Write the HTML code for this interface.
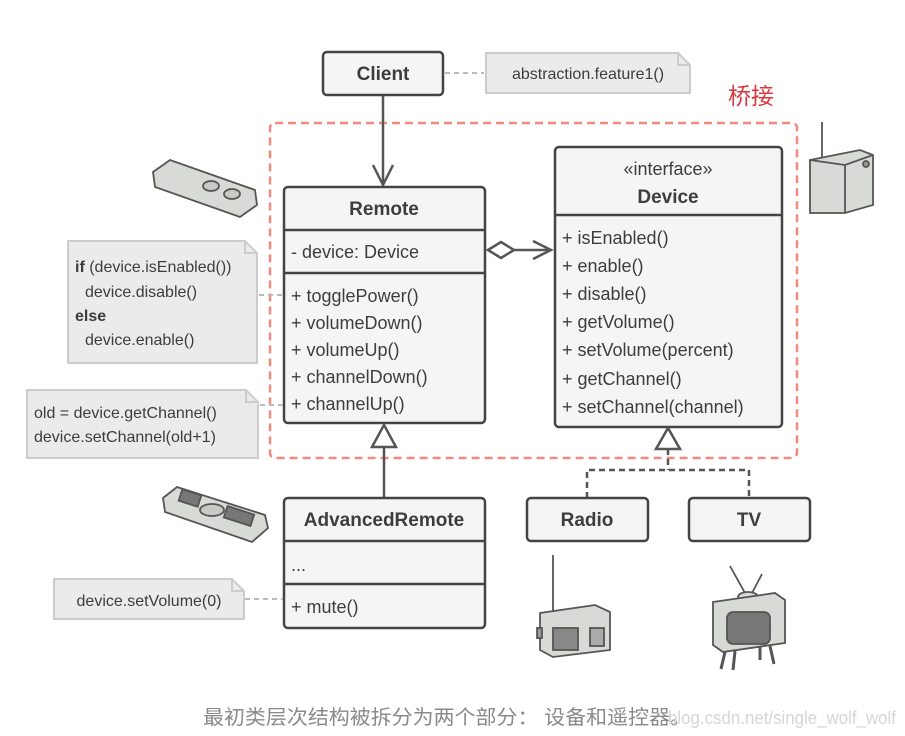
<!DOCTYPE html>
<html><head><meta charset="utf-8"><style>
html,body{margin:0;padding:0;background:#fff;}
svg{display:block;}
text{font-family:"Liberation Sans","Noto Sans CJK SC",sans-serif;fill:#3d3d3d;}
.b{font-weight:bold;}
</style></head><body>
<svg width="905" height="736" viewBox="0 0 905 736" xmlns="http://www.w3.org/2000/svg">
<rect x="270" y="123" width="527" height="335" rx="5" fill="none" stroke="#f28b7d" stroke-width="2.5" stroke-dasharray="8,5"/>
<text x="728" y="104" font-size="23" style="fill:#d9363e">桥接</text>

<rect x="323" y="52" width="120" height="43" rx="4" fill="#f5f5f5" stroke="#444" stroke-width="2.5"/>
<text x="383" y="80" font-size="19" text-anchor="middle" class="b">Client</text>
<line x1="445" y1="73" x2="484" y2="73" stroke="#bbb" stroke-width="2" stroke-dasharray="5,4"/>
<path d="M486 53 H678 L690 65 V93 H486 Z" fill="#ebebeb" stroke="#ccc" stroke-width="2"/>
<path d="M678 53 V65 H690" fill="none" stroke="#ccc" stroke-width="2"/>
<text x="588" y="79" font-size="16" text-anchor="middle">abstraction.feature1()</text>
<line x1="383" y1="96" x2="383" y2="185" stroke="#555" stroke-width="2.5"/>
<path d="M373 165 L383 185 L393 165" fill="none" stroke="#555" stroke-width="2.5"/>

<rect x="284" y="187" width="201" height="236" rx="4" fill="#f5f5f5" stroke="#444" stroke-width="2.5"/>
<line x1="284" y1="230" x2="485" y2="230" stroke="#444" stroke-width="2.5"/>
<line x1="284" y1="273" x2="485" y2="273" stroke="#444" stroke-width="2.5"/>
<text x="384" y="215" font-size="19" text-anchor="middle" class="b">Remote</text>
<g font-size="18">
<text x="291" y="258">- device: Device</text>
<text x="291" y="302">+ togglePower()</text>
<text x="291" y="329">+ volumeDown()</text>
<text x="291" y="356">+ volumeUp()</text>
<text x="291" y="383">+ channelDown()</text>
<text x="291" y="410">+ channelUp()</text>
</g>

<path d="M488 250 L501 242 L514 250 L501 258 Z" fill="#fff" stroke="#555" stroke-width="2.5"/>
<line x1="514" y1="250" x2="551" y2="250" stroke="#555" stroke-width="2.5"/>
<path d="M533 241 L551 250 L533 259" fill="none" stroke="#555" stroke-width="2.5"/>

<rect x="555" y="147" width="227" height="280" rx="4" fill="#f5f5f5" stroke="#444" stroke-width="2.5"/>
<line x1="555" y1="215" x2="782" y2="215" stroke="#444" stroke-width="2.5"/>
<text x="668" y="175" font-size="18" text-anchor="middle">«interface»</text>
<text x="668" y="203" font-size="19" text-anchor="middle" class="b">Device</text>
<g font-size="18">
<text x="562" y="244">+ isEnabled()</text>
<text x="562" y="272">+ enable()</text>
<text x="562" y="300">+ disable()</text>
<text x="562" y="328">+ getVolume()</text>
<text x="562" y="356">+ setVolume(percent)</text>
<text x="562" y="385">+ getChannel()</text>
<text x="562" y="413">+ setChannel(channel)</text>
</g>

<path d="M384 425 L396 447 L372 447 Z" fill="#fff" stroke="#555" stroke-width="2.5"/>
<line x1="384" y1="447" x2="384" y2="498" stroke="#555" stroke-width="2.5"/>

<rect x="284" y="498" width="201" height="130" rx="4" fill="#f5f5f5" stroke="#444" stroke-width="2.5"/>
<line x1="284" y1="541" x2="485" y2="541" stroke="#444" stroke-width="2.5"/>
<line x1="284" y1="584" x2="485" y2="584" stroke="#444" stroke-width="2.5"/>
<text x="384" y="526" font-size="19" text-anchor="middle" class="b">AdvancedRemote</text>
<text x="291" y="571" font-size="18">...</text>
<text x="291" y="613" font-size="18">+ mute()</text>

<path d="M668 428 L680 449 L656 449 Z" fill="#fff" stroke="#555" stroke-width="2.5"/>
<path d="M668 449 V470 M587 498 V470 H749 V498" fill="none" stroke="#555" stroke-width="2.5" stroke-dasharray="6,4"/>
<rect x="527" y="498" width="121" height="43" rx="4" fill="#f5f5f5" stroke="#444" stroke-width="2.5"/>
<text x="587" y="526" font-size="19" text-anchor="middle" class="b">Radio</text>
<rect x="689" y="498" width="121" height="43" rx="4" fill="#f5f5f5" stroke="#444" stroke-width="2.5"/>
<text x="749" y="526" font-size="19" text-anchor="middle" class="b">TV</text>

<g stroke="#bbb" stroke-width="2" stroke-dasharray="5,4">
<line x1="259" y1="295" x2="283" y2="295"/>
<line x1="260" y1="405" x2="283" y2="405"/>
<line x1="245" y1="599" x2="283" y2="599"/>
</g>
<path d="M68 241 H245 L257 253 V363 H68 Z" fill="#ebebeb" stroke="#ccc" stroke-width="2"/>
<path d="M245 241 V253 H257" fill="none" stroke="#ccc" stroke-width="2"/>
<g font-size="16">
<text x="75" y="272"><tspan class="b">if</tspan> (device.isEnabled())</text>
<text x="85" y="297">device.disable()</text>
<text x="75" y="321" class="b">else</text>
<text x="85" y="345">device.enable()</text>
</g>
<path d="M27 390 H246 L258 402 V458 H27 Z" fill="#ebebeb" stroke="#ccc" stroke-width="2"/>
<path d="M246 390 V402 H258" fill="none" stroke="#ccc" stroke-width="2"/>
<text x="34" y="418" font-size="16">old = device.getChannel()</text>
<text x="34" y="442" font-size="16">device.setChannel(old+1)</text>
<path d="M54 579 H232 L244 591 V619 H54 Z" fill="#ebebeb" stroke="#ccc" stroke-width="2"/>
<path d="M232 579 V591 H244" fill="none" stroke="#ccc" stroke-width="2"/>
<text x="149" y="606" font-size="16" text-anchor="middle">device.setVolume(0)</text>

<g stroke="#555" stroke-width="1.8" fill="#d8dad5">
<path d="M153 172 L170 160 L255 190 L257 205 L240 217 L155 187 Z"/>
<ellipse cx="211" cy="186" rx="8" ry="5" fill="#c8cac4"/>
<ellipse cx="232" cy="194" rx="8" ry="5" fill="#c8cac4"/>
<path d="M163 498 L177 487 L265 515 L268 528 L252 542 L165 512 Z"/>
<ellipse cx="212" cy="510" rx="12" ry="6" fill="#c8cac4"/>
<rect x="180" y="492" width="20" height="12" fill="#777" transform="rotate(18 190 498)"/>
<rect x="225" y="510" width="28" height="12" fill="#777" transform="rotate(18 239 516)"/>
<line x1="822" y1="122" x2="822" y2="158"/>
<path d="M810 160 L860 150 L873 155 V205 L845 213 L810 213 Z"/>
<path d="M810 160 L845 165 L873 155 M845 165 V213" fill="none"/>
<circle cx="866" cy="164" r="3" fill="#999"/>
<line x1="553" y1="555" x2="553" y2="615"/>
<path d="M540 613 L595 605 L610 612 V650 L553 657 L540 650 Z"/>
<rect x="553" y="628" width="25" height="22" fill="#888"/>
<rect x="590" y="628" width="14" height="18" fill="#aaa"/>
<rect x="537" y="628" width="5" height="10" fill="#999"/>
<line x1="730" y1="566" x2="745" y2="593"/>
<line x1="762" y1="574" x2="752" y2="593"/>
<ellipse cx="748" cy="597" rx="10" ry="5"/>
<path d="M713 602 L775 593 L785 600 V643 L723 652 L713 645 Z"/>
<rect x="727" y="612" width="43" height="32" rx="6" fill="#777"/>
<path d="M725 652 L721 669 M735 651 L733 670 M760 647 L760 660 M770 646 L774 664" fill="none" stroke-width="3"/>
</g>

<text x="203" y="724" font-size="20" textLength="488" lengthAdjust="spacingAndGlyphs" style="fill:#8a8a8a">最初类层次结构被拆分为两个部分： 设备和遥控器。</text>
<text x="668" y="724" font-size="18" textLength="228" lengthAdjust="spacingAndGlyphs" style="fill:#d6d6d6">blog.csdn.net/single_wolf_wolf</text>
</svg>
</body></html>
